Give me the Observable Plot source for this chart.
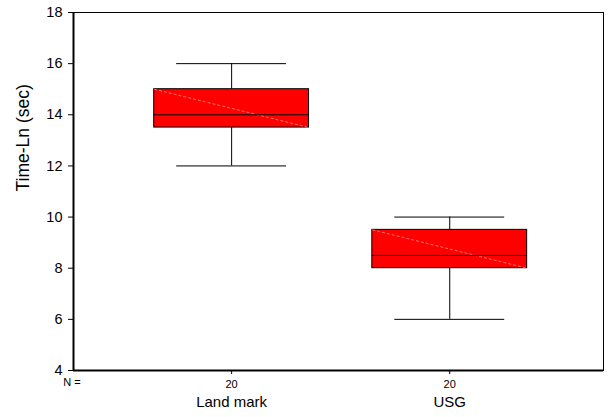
<!DOCTYPE html>
<html>
<head>
<meta charset="utf-8">
<script src="https://cdn.jsdelivr.net/npm/d3@7"></script>
<script src="https://cdn.jsdelivr.net/npm/@observablehq/plot@0.6"></script>
<style>
  html, body { margin: 0; padding: 0; background: #fff; }
  #chart svg { display: block; }
</style>
</head>
<body>
<div id="chart"></div>
<script>
const categories = ["Land mark", "USG"];
const counts = [20, 20];
const mins = [12, 6];
const q1s = [13.5, 8];
const medians = [14, 8.5];
const q3s = [15, 9.5];
const maxs = [16, 10];
const yTicks = [4, 6, 8, 10, 12, 14, 16, 18];
const yLabel = "Time-Ln (sec)";
const nLabel = "N =";

const boxHalf = 0.355;
const capHalf = 0.252;

const data = categories.map((c, i) => ({
  i, cat: c, n: counts[i], min: mins[i], q1: q1s[i], med: medians[i], q3: q3s[i], max: maxs[i]
}));

const font = "Liberation Sans, Arial, sans-serif";

const chart = Plot.plot({
  width: 608,
  height: 417,
  marginLeft: 73,
  marginRight: 5,
  marginTop: 12,
  marginBottom: 47,
  style: { fontFamily: font, fontSize: "13px", color: "#000", background: "#fff" },
  x: { type: "linear", domain: [-0.725, 1.705] },
  y: { domain: [4, 18] },
  marks: [
    Plot.frame({ stroke: "#000", strokeWidth: 1 }),
    // whiskers
    Plot.ruleX(data, { x: "i", y1: "min", y2: "q1", stroke: "#000", strokeWidth: 1 }),
    Plot.ruleX(data, { x: "i", y1: "q3", y2: "max", stroke: "#000", strokeWidth: 1 }),
    Plot.ruleY(data, { y: "min", x1: d => d.i - capHalf, x2: d => d.i + capHalf, stroke: "#000", strokeWidth: 1 }),
    Plot.ruleY(data, { y: "max", x1: d => d.i - capHalf, x2: d => d.i + capHalf, stroke: "#000", strokeWidth: 1 }),
    // boxes
    Plot.rect(data, { x1: d => d.i - boxHalf, x2: d => d.i + boxHalf, y1: "q1", y2: "q3", fill: "#ff0000", stroke: "#000", strokeWidth: 1 }),
    Plot.link(data, { x1: d => d.i - boxHalf, y1: "q3", x2: d => d.i + boxHalf, y2: "q1", stroke: "#ff9090", strokeWidth: 0.8, strokeDasharray: "3,2" }),
    Plot.ruleY(data, { y: "med", x1: d => d.i - boxHalf, x2: d => d.i + boxHalf, stroke: "#000", strokeWidth: 1 }),
    // axes
    Plot.axisY({ ticks: yTicks, tickSize: 5, tickPadding: 6, fontSize: 14.5, label: null }),
    Plot.text([yLabel], { frameAnchor: "left", dx: -50, rotate: -90, fontSize: 17.5 }),
    Plot.ruleX([-0.725], { stroke: "#000", strokeWidth: 2 }),
    Plot.ruleY([4], { stroke: "#000", strokeWidth: 2 }),
    Plot.axisX({ ticks: data.map(d => d.i), tickFormat: i => String(counts[i]), tickSize: 4, tickPadding: 6, fontSize: 11, label: null }),
    Plot.text(data, { x: "i", text: "cat", frameAnchor: "bottom", dy: 36, fontSize: 15 }),
    Plot.text([nLabel], { frameAnchor: "bottom-left", dx: -1.5, dy: 15, textAnchor: "middle", fontSize: 11 })
  ]
});

document.getElementById("chart").appendChild(chart);
</script>
</body>
</html>
